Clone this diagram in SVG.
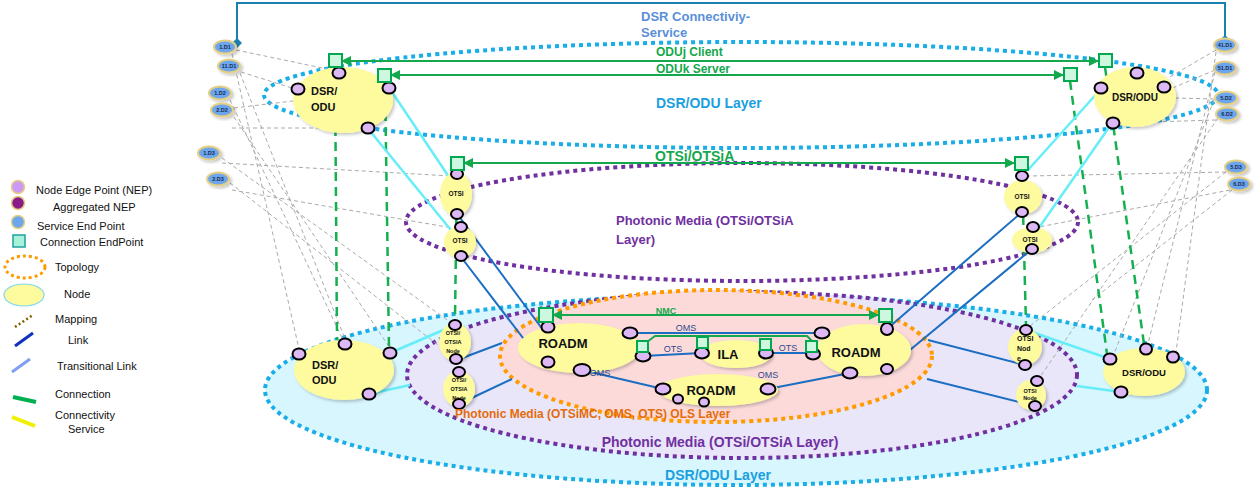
<svg xmlns="http://www.w3.org/2000/svg" width="1258" height="490" viewBox="0 0 1258 490">
<defs>
<filter id="sh" x="-20%" y="-20%" width="150%" height="150%"><feDropShadow dx="2" dy="2" stdDeviation="1.5" flood-color="#000" flood-opacity="0.22"/></filter>
<marker id="ah" viewBox="0 0 10 10" refX="9" refY="5" markerWidth="5" markerHeight="5" orient="auto-start-reverse"><path d="M0,0 L10,5 L0,10 z" fill="#14a84c"/></marker>
<marker id="dm" viewBox="0 0 10 10" refX="5" refY="5" markerWidth="5" markerHeight="5" orient="auto"><path d="M5,0 L10,5 L5,10 L0,5 z" fill="#1a80b0"/></marker>
<style>
text{font-family:"Liberation Sans",Arial,sans-serif}
.node{fill:#fdfb9e;filter:url(#sh)}
.nep{fill:#dcb9f5;stroke:#000;stroke-width:2}
.cep{fill:#cdf7de;stroke:#00a84f;stroke-width:2}
.sep{fill:#6da6ec;stroke:#e5cf83;stroke-width:2;filter:url(#sh)}
.sept{font-size:5.5px;font-weight:bold;fill:#1a2a50;text-anchor:middle}
.map{stroke:#aaa;stroke-width:1;stroke-dasharray:4 3;fill:none}
.link{stroke:#1b6ec2;stroke-width:2;fill:none}
.tlink{stroke:#66eef8;stroke-width:2.5;fill:none}
.conn{stroke:#14a84c;stroke-width:2;fill:none}
.cdash{stroke:#14b050;stroke-width:2.5;stroke-dasharray:9 6;fill:none}
.bdot{stroke:#1aaee8;stroke-width:4;stroke-dasharray:4 4}
.pdot{stroke:#7030a0;stroke-width:4;stroke-dasharray:4 4}
.odot{stroke:#ff9a00;stroke-width:4;stroke-dasharray:4 4}
.nt{font-weight:bold;fill:#111}
.lg{font-size:11px;fill:#111}
.lbl{font-size:9px;fill:#2e4a8a}
</style>
</defs>
<rect width="1258" height="490" fill="#fff"/>

<!-- bottom topologies -->
<g id="topo-dsr-bottom"><ellipse cx="736" cy="390" rx="471" ry="95" fill="#d7f6fd" class="bdot"/></g>
<g id="topo-otsi-bottom"><ellipse cx="742" cy="375" rx="335" ry="83" fill="#e9e6fa" class="pdot"/></g>
<g id="topo-ols"><ellipse cx="716" cy="356" rx="216" ry="66" fill="#fcdada" class="odot"/></g>
<g id="topo-dsr-top"><ellipse cx="741" cy="95" rx="477" ry="53" fill="none" class="bdot"/></g>
<g id="topo-otsi-top"><ellipse cx="742" cy="222" rx="336" ry="59" fill="none" class="pdot"/></g>

<!-- connectors -->
<g id="connectors">
 <g id="mappings">
  <line class="map" x1="236" y1="50" x2="332" y2="70"/>
  <line class="map" x1="241" y1="72" x2="292" y2="88"/>
  <line class="map" x1="234" y1="108" x2="293" y2="101"/>
  <line class="map" x1="232" y1="128" x2="362" y2="128"/>
  <line class="map" x1="222" y1="163" x2="451" y2="176"/>
  <line class="map" x1="232" y1="190" x2="447" y2="227"/>
  <line class="map" x1="232" y1="54" x2="299" y2="349"/>
  <line class="map" x1="240" y1="73" x2="345" y2="339"/>
  <line class="map" x1="230" y1="100" x2="366" y2="389"/>
  <line class="map" x1="234" y1="117" x2="390" y2="348"/>
  <line class="map" x1="222" y1="158" x2="450" y2="322"/>
  <line class="map" x1="230" y1="183" x2="452" y2="356"/>
  <line class="map" x1="1216" y1="50" x2="1168" y2="78"/>
  <line class="map" x1="1215" y1="70" x2="1168" y2="90"/>
  <line class="map" x1="1214" y1="99" x2="1176" y2="98"/>
  <line class="map" x1="1216" y1="120" x2="1120" y2="123"/>
  <line class="map" x1="1226" y1="172" x2="1029" y2="176"/>
  <line class="map" x1="1230" y1="190" x2="1039" y2="227"/>
  <line class="map" x1="1216" y1="52" x2="1176" y2="352"/>
  <line class="map" x1="1215" y1="72" x2="1148" y2="344"/>
  <line class="map" x1="1214" y1="100" x2="1114" y2="354"/>
  <line class="map" x1="1218" y1="118" x2="1040" y2="377"/>
  <line class="map" x1="1226" y1="172" x2="1030" y2="326"/>
  <line class="map" x1="1232" y1="190" x2="1092" y2="300"/>
 </g>
 <!-- DSR connectivity service -->
 <path d="M237,43 V3 H1225 V40" fill="none" stroke="#1a80b0" stroke-width="2" marker-start="url(#dm)" marker-end="url(#dm)"/>
 <!-- connection dashed (client-server) -->
 <line class="cdash" x1="335" y1="67" x2="337" y2="340"/>
 <line class="cdash" x1="385" y1="82" x2="389" y2="348"/>
 <line class="cdash" x1="457" y1="170" x2="455" y2="319"/>
 <line class="cdash" x1="1022" y1="171" x2="1026" y2="325"/>
 <line class="cdash" x1="1105" y1="67" x2="1144" y2="344"/>
 <line class="cdash" x1="1070" y1="81" x2="1107" y2="354"/>
 <!-- transitional links -->
 <line class="tlink" x1="392" y1="92" x2="453" y2="183"/>
 <line class="tlink" x1="370" y1="131" x2="455" y2="235"/>
 <line class="tlink" x1="1100" y1="90" x2="1028" y2="170"/>
 <line class="tlink" x1="1110" y1="126" x2="1036" y2="232"/>
 <line class="tlink" x1="390" y1="353" x2="455" y2="325"/>
 <line class="tlink" x1="369" y1="394" x2="410" y2="385"/>
 <line class="tlink" x1="1026" y1="330" x2="1110" y2="359"/>
 <line class="tlink" x1="1077" y1="386" x2="1121" y2="392"/>
 <!-- links -->
 <line class="link" x1="458" y1="215" x2="546" y2="334"/>
 <line class="link" x1="461" y1="257" x2="546" y2="368"/>
 <line class="link" x1="887" y1="329" x2="1022" y2="212"/>
 <line class="link" x1="887" y1="369" x2="1032" y2="249"/>
 <line class="link" x1="457" y1="360" x2="502" y2="343"/>
 <line class="link" x1="459" y1="404" x2="512" y2="379"/>
 <line class="link" x1="928" y1="340" x2="1025" y2="365"/>
 <line class="link" x1="927" y1="379" x2="1035" y2="406"/>
 <line class="link" x1="630" y1="333" x2="822" y2="333"/>
 <line class="link" x1="643" y1="356" x2="702" y2="353" stroke-width="3"/>
 <line class="link" x1="766" y1="353" x2="813" y2="353" stroke-width="3"/>
 <line class="link" x1="582" y1="370" x2="663" y2="389"/>
 <line class="link" x1="768" y1="389" x2="850" y2="373"/>
 <!-- connections -->
 <line class="conn" x1="342" y1="61" x2="1098" y2="61" marker-start="url(#ah)" marker-end="url(#ah)"/>
 <line class="conn" x1="391" y1="75" x2="1063" y2="75" marker-start="url(#ah)" marker-end="url(#ah)"/>
 <line class="conn" x1="464" y1="163" x2="1014" y2="163" marker-start="url(#ah)" marker-end="url(#ah)"/>
 <line class="conn" x1="553" y1="315" x2="878" y2="315" marker-start="url(#ah)" marker-end="url(#ah)"/>
 <path class="conn" d="M643,345 L655,336 H807 L813,342"/>
 <line class="conn" x1="703" y1="346" x2="766" y2="346"/>
</g>

<!-- SEPs -->
<g id="sep-1D1"><ellipse class="sep" cx="225" cy="47" rx="11" ry="6.5"/><text class="sept" x="225" y="49">1.D1</text></g>
<g id="sep-11D1"><ellipse class="sep" cx="229" cy="66" rx="11" ry="6.5"/><text class="sept" x="229" y="68">11.D1</text></g>
<g id="sep-1D2"><ellipse class="sep" cx="220" cy="93" rx="11" ry="6.5"/><text class="sept" x="220" y="95">1.D2</text></g>
<g id="sep-2D2"><ellipse class="sep" cx="222" cy="110" rx="11" ry="6.5"/><text class="sept" x="222" y="112">2.D2</text></g>
<g id="sep-1D3"><ellipse class="sep" cx="209" cy="153" rx="11" ry="6.5"/><text class="sept" x="209" y="155">1.D3</text></g>
<g id="sep-2D3"><ellipse class="sep" cx="218" cy="179" rx="11" ry="6.5"/><text class="sept" x="218" y="181">2.D3</text></g>
<g id="sep-41D1"><ellipse class="sep" cx="1225" cy="45" rx="11" ry="6.5"/><text class="sept" x="1225" y="47">41.D1</text></g>
<g id="sep-51D1"><ellipse class="sep" cx="1225" cy="68" rx="11" ry="6.5"/><text class="sept" x="1225" y="70">51.D1</text></g>
<g id="sep-5D2"><ellipse class="sep" cx="1226" cy="98" rx="11" ry="6.5"/><text class="sept" x="1226" y="100">5.D2</text></g>
<g id="sep-6D2"><ellipse class="sep" cx="1227" cy="114" rx="11" ry="6.5"/><text class="sept" x="1227" y="116">6.D2</text></g>
<g id="sep-5D3"><ellipse class="sep" cx="1236" cy="167" rx="11" ry="6.5"/><text class="sept" x="1236" y="169">5.D3</text></g>
<g id="sep-6D3"><ellipse class="sep" cx="1239" cy="184" rx="11" ry="6.5"/><text class="sept" x="1239" y="186">6.D3</text></g>

<!-- top DSR/ODU left -->
<g id="dsr-top-left">
 <ellipse class="node" cx="343" cy="100" rx="50" ry="33"/>
 <text class="nt" font-size="11" x="311" y="95">DSR/</text><text class="nt" font-size="11" x="311" y="111">ODU</text>
 <ellipse class="nep" cx="339" cy="73" rx="6.5" ry="5.5"/><ellipse class="nep" cx="298" cy="89" rx="6.5" ry="5.5"/>
 <ellipse class="nep" cx="389" cy="88" rx="6.5" ry="5.5"/><ellipse class="nep" cx="368" cy="128" rx="6.5" ry="5.5"/>
 <rect class="cep" x="329" y="54" width="13" height="13"/><rect class="cep" x="378" y="69" width="13" height="13"/>
</g>
<!-- top DSR/ODU right -->
<g id="dsr-top-right">
 <ellipse class="node" cx="1135" cy="97" rx="41" ry="30"/>
 <text class="nt" font-size="10" x="1135" y="101" text-anchor="middle">DSR/ODU</text>
 <ellipse class="nep" cx="1137" cy="73" rx="6.5" ry="5.5"/><ellipse class="nep" cx="1101" cy="88" rx="6.5" ry="5.5"/>
 <ellipse class="nep" cx="1164" cy="87" rx="6.5" ry="5.5"/><ellipse class="nep" cx="1113" cy="123" rx="6.5" ry="5.5"/>
 <rect class="cep" x="1099" y="54" width="13" height="13"/><rect class="cep" x="1064" y="68" width="13" height="13"/>
</g>
<!-- OTSi left -->
<g id="otsi-left-1">
 <ellipse class="node" cx="456" cy="194" rx="16" ry="22"/>
 <text class="nt" font-size="6.5" x="456" y="196" text-anchor="middle">OTSI</text>
 <ellipse class="nep" cx="457" cy="174" rx="6" ry="5"/><ellipse class="nep" cx="457" cy="214" rx="6" ry="5"/>
 <rect class="cep" x="451" y="157" width="13" height="13"/>
</g>
<g id="otsi-left-2">
 <ellipse class="node" cx="460" cy="242" rx="16" ry="16"/>
 <text class="nt" font-size="6.5" x="460" y="243" text-anchor="middle">OTSI</text>
 <ellipse class="nep" cx="461" cy="227" rx="6" ry="5"/><ellipse class="nep" cx="461" cy="256" rx="6" ry="5"/>
</g>
<!-- OTSi right -->
<g id="otsi-right-1">
 <ellipse class="node" cx="1023" cy="197" rx="19" ry="17"/>
 <text class="nt" font-size="6.5" x="1022" y="199" text-anchor="middle">OTSI</text>
 <ellipse class="nep" cx="1022" cy="176" rx="6" ry="5"/><ellipse class="nep" cx="1022" cy="212" rx="6" ry="5"/>
 <rect class="cep" x="1015" y="157" width="13" height="13"/>
</g>
<g id="otsi-right-2">
 <ellipse class="node" cx="1032" cy="240" rx="20" ry="13"/>
 <text class="nt" font-size="6.5" x="1030" y="242" text-anchor="middle">OTSI</text>
 <ellipse class="nep" cx="1033" cy="227" rx="6" ry="5"/><ellipse class="nep" cx="1032" cy="249" rx="6" ry="5"/>
</g>

<!-- bottom DSR/ODU left -->
<g id="dsr-bottom-left">
 <ellipse class="node" cx="344" cy="370" rx="50" ry="30"/>
 <text class="nt" font-size="11" x="312" y="369">DSR/</text><text class="nt" font-size="11" x="312" y="384">ODU</text>
 <ellipse class="nep" cx="299" cy="354" rx="6.5" ry="5.5"/><ellipse class="nep" cx="345" cy="344" rx="6.5" ry="5.5"/>
 <ellipse class="nep" cx="390" cy="353" rx="6.5" ry="5.5"/><ellipse class="nep" cx="369" cy="394" rx="6.5" ry="5.5"/>
</g>
<!-- bottom DSR/ODU right -->
<g id="dsr-bottom-right">
 <ellipse class="node" cx="1144" cy="372" rx="41" ry="24"/>
 <text class="nt" font-size="9.5" x="1144" y="376" text-anchor="middle">DSR/ODU</text>
 <ellipse class="nep" cx="1110" cy="359" rx="6.5" ry="5.5"/><ellipse class="nep" cx="1146" cy="349" rx="6" ry="5.5"/>
 <ellipse class="nep" cx="1173" cy="357" rx="6" ry="5.5"/><ellipse class="nep" cx="1121" cy="392" rx="6.5" ry="5.5"/>
</g>
<!-- OTSi/OTSiA nodes left -->
<g id="otsia-left-1">
 <ellipse class="node" cx="455" cy="342" rx="16" ry="19"/>
 <text class="nt" font-size="5.5" x="453" y="335" text-anchor="middle">OTSI/</text>
 <text class="nt" font-size="5.5" x="453" y="344" text-anchor="middle">OTSIA</text>
 <text class="nt" font-size="5.5" x="453" y="353" text-anchor="middle">Node</text>
 <ellipse class="nep" cx="455" cy="325" rx="6" ry="5"/><ellipse class="nep" cx="456" cy="359" rx="6" ry="5"/>
</g>
<g id="otsia-left-2">
 <ellipse class="node" cx="459" cy="389" rx="16" ry="18"/>
 <text class="nt" font-size="5.5" x="459" y="382" text-anchor="middle">OTSI/</text>
 <text class="nt" font-size="5.5" x="459" y="391" text-anchor="middle">OTSIA</text>
 <text class="nt" font-size="5.5" x="459" y="400" text-anchor="middle">Node</text>
 <ellipse class="nep" cx="459" cy="372" rx="6" ry="5"/><ellipse class="nep" cx="459" cy="404" rx="6" ry="5"/>
</g>
<!-- OTSi nodes right -->
<g id="otsi-node-right-1">
 <ellipse class="node" cx="1025" cy="347" rx="17" ry="18"/>
 <text class="nt" font-size="7" x="1017" y="341">OTSI</text>
 <text class="nt" font-size="7" x="1017" y="351">Nod</text>
 <text class="nt" font-size="7" x="1017" y="361">e</text>
 <ellipse class="nep" cx="1026" cy="330" rx="6" ry="5"/><ellipse class="nep" cx="1025" cy="365" rx="6" ry="5"/>
</g>
<g id="otsi-node-right-2">
 <ellipse class="node" cx="1031" cy="395" rx="15" ry="15"/>
 <text class="nt" font-size="5.5" x="1030" y="393" text-anchor="middle">OTSI</text>
 <text class="nt" font-size="5.5" x="1030" y="400" text-anchor="middle">Node</text>
 <ellipse class="nep" cx="1037" cy="381" rx="6" ry="5"/><ellipse class="nep" cx="1035" cy="406" rx="6" ry="5"/>
</g>

<!-- photonic OLS nodes -->
<g id="roadm-left">
 <ellipse class="node" cx="579" cy="348" rx="61" ry="25"/>
 <text class="nt" font-size="13" x="563" y="348" text-anchor="middle">ROADM</text>
 <ellipse class="nep" cx="548" cy="327" rx="6.5" ry="5.5"/><ellipse class="nep" cx="548" cy="362" rx="6.5" ry="5.5"/>
 <ellipse class="nep" cx="630" cy="333" rx="7.5" ry="5.5"/><ellipse class="nep" cx="643" cy="356" rx="7.5" ry="5.5"/>
 <ellipse class="nep" cx="582" cy="370" rx="8.5" ry="6"/>
 <rect class="cep" x="539" y="308" width="14" height="14"/>
 <rect class="cep" x="637" y="341" width="11" height="11"/>
</g>
<g id="ila">
 <ellipse class="node" cx="736" cy="354" rx="36" ry="14"/>
 <text class="nt" font-size="13" x="728" y="359" text-anchor="middle">ILA</text>
 <ellipse class="nep" cx="702" cy="353" rx="7" ry="5.5"/><ellipse class="nep" cx="766" cy="353" rx="7" ry="5.5"/>
 <rect class="cep" x="697" y="337" width="11" height="11"/><rect class="cep" x="760" y="339" width="11" height="11"/>
</g>
<g id="roadm-right">
 <ellipse class="node" cx="864" cy="350" rx="47" ry="26"/>
 <text class="nt" font-size="13" x="856" y="357" text-anchor="middle">ROADM</text>
 <ellipse class="nep" cx="822" cy="333" rx="7.5" ry="5.5"/><ellipse class="nep" cx="813" cy="354" rx="7" ry="5.5"/>
 <ellipse class="nep" cx="887" cy="329" rx="6" ry="6"/><ellipse class="nep" cx="887" cy="369" rx="6" ry="5"/>
 <ellipse class="nep" cx="850" cy="373" rx="7.5" ry="5.5"/>
 <rect class="cep" x="879" y="309" width="13" height="13"/>
 <rect class="cep" x="806" y="341" width="11" height="11"/>
</g>
<g id="roadm-bottom">
 <ellipse class="node" cx="718" cy="390" rx="60" ry="16"/>
 <text class="nt" font-size="13" x="711" y="395" text-anchor="middle">ROADM</text>
 <ellipse class="nep" cx="663" cy="389" rx="7.5" ry="5.5"/><ellipse class="nep" cx="768" cy="389" rx="7.5" ry="5.5"/>
 <ellipse class="nep" cx="678" cy="399" rx="5" ry="4.5"/><ellipse class="nep" cx="704" cy="402" rx="5" ry="4.5"/>
</g>

<!-- labels -->
<g id="labels">
 <text x="641" y="21" font-size="13" font-weight="bold" fill="#5a8fd8">DSR Connectiviy-</text>
 <text x="641" y="37" font-size="13" font-weight="bold" fill="#5a8fd8">Service</text>
 <text x="656" y="56" font-size="12" font-weight="bold" fill="#14a84c">ODUj Client</text>
 <text x="656" y="73" font-size="12" font-weight="bold" fill="#14a84c">ODUk Server</text>
 <text x="656" y="108" font-size="14" font-weight="bold" fill="#1aa0e0">DSR/ODU Layer</text>
 <text x="655" y="161" font-size="14" font-weight="bold" fill="#14a84c">OTSi/OTSiA</text>
 <text x="616" y="225" font-size="13" font-weight="bold" fill="#7030a0">Photonic Media (OTSi/OTSiA</text>
 <text x="616" y="244" font-size="13" font-weight="bold" fill="#7030a0">Layer)</text>
 <text x="666" y="314" font-size="9" font-weight="bold" fill="#14a84c" text-anchor="middle">NMC</text>
 <text class="lbl" x="686" y="331" text-anchor="middle">OMS</text>
 <text class="lbl" x="673" y="352" text-anchor="middle">OTS</text>
 <text class="lbl" x="788" y="351" text-anchor="middle">OTS</text>
 <text class="lbl" x="600" y="376" text-anchor="middle">OMS</text>
 <text class="lbl" x="768" y="378" text-anchor="middle">OMS</text>
 <text x="455" y="418" font-size="12" font-weight="bold" fill="#e46c0a">Photonic Media (OTSiMC, OMS, OTS) OLS Layer</text>
 <text x="720" y="447" font-size="14" font-weight="bold" fill="#7030a0" text-anchor="middle">Photonic Media (OTSi/OTSiA Layer)</text>
 <text x="718" y="480" font-size="14" font-weight="bold" fill="#1aa0e0" text-anchor="middle">DSR/ODU Layer</text>
</g>

<!-- legend -->
<g id="legend">
 <circle cx="18" cy="187" r="6.5" fill="#cc99f5" stroke="#e5cf83" stroke-width="1.5"/>
 <text class="lg" x="36" y="194">Node Edge Point (NEP)</text>
 <circle cx="18" cy="203" r="6.5" fill="#8b1a89" stroke="#e5cf83" stroke-width="1.5"/>
 <text class="lg" x="53" y="211">Aggregated NEP</text>
 <circle cx="18" cy="222" r="6.5" fill="#6da6ec" stroke="#e5cf83" stroke-width="1.5"/>
 <text class="lg" x="37" y="230">Service End Point</text>
 <rect x="13" y="235" width="12" height="12" fill="#a6f2d8" stroke="#20a0a0" stroke-width="1.5"/>
 <text class="lg" x="40" y="246">Connection EndPoint</text>
 <ellipse cx="25" cy="267" rx="20" ry="11" fill="none" stroke="#ff9a00" stroke-width="3" stroke-dasharray="3 3"/>
 <text class="lg" x="55" y="271">Topology</text>
 <ellipse cx="24" cy="295" rx="20" ry="11" fill="#fdfb9e" stroke="#7fd8f0" stroke-width="1.2"/>
 <text class="lg" x="64" y="298">Node</text>
 <line x1="15" y1="327" x2="33" y2="315" stroke="#806000" stroke-width="2.5" stroke-dasharray="2 2.5"/>
 <text class="lg" x="55" y="323">Mapping</text>
 <line x1="15" y1="346" x2="33" y2="333" stroke="#1030c0" stroke-width="3"/>
 <text class="lg" x="68" y="344">Link</text>
 <line x1="12" y1="372" x2="30" y2="359" stroke="#7fa0f0" stroke-width="3"/>
 <text class="lg" x="57" y="370">Transitional Link</text>
 <line x1="13" y1="397" x2="36" y2="402" stroke="#00b050" stroke-width="4"/>
 <text class="lg" x="55" y="398">Connection</text>
 <line x1="12" y1="417" x2="35" y2="426" stroke="#f0f000" stroke-width="4"/>
 <text class="lg" x="55" y="419">Connectivity</text>
 <text class="lg" x="68" y="433">Service</text>
</g>
</svg>
